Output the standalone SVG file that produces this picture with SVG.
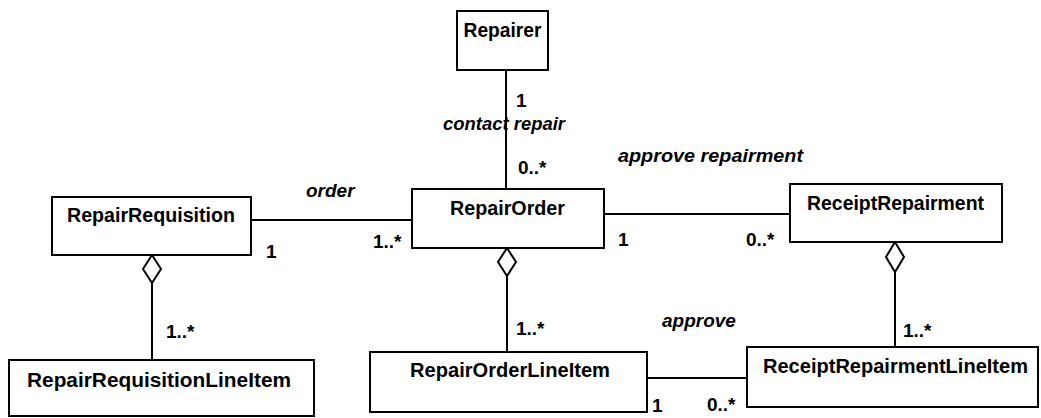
<svg xmlns="http://www.w3.org/2000/svg" width="1041" height="418" viewBox="0 0 1041 418">
<style>
.box{fill:#fff;stroke:#000;stroke-width:2}
.name{font-family:"Liberation Sans",Arial,sans-serif;font-weight:bold;font-size:20px;fill:#000}
.lbl{font-family:"Liberation Sans",Arial,sans-serif;font-weight:bold;font-style:italic;font-size:19px;fill:#000}
.mul{font-family:"Liberation Sans",Arial,sans-serif;font-weight:bold;font-size:19px;fill:#000}
.ln{fill:none;stroke:#000;stroke-width:2}
.dia{fill:#fff;stroke:#000;stroke-width:2}
</style>
<rect width="1041" height="418" fill="#fff"/>
<g id="connectors">
<line class="ln" x1="506" y1="70" x2="506" y2="189"/>
<line class="ln" x1="251" y1="220" x2="412" y2="220"/>
<line class="ln" x1="604" y1="214" x2="790" y2="214"/>
<line class="ln" x1="152" y1="283" x2="152" y2="360"/>
<polygon class="dia" points="152,255 161,269 152,283 143,269"/>
<line class="ln" x1="507" y1="276" x2="507" y2="352"/>
<polygon class="dia" points="507,248 516,262 507,276 498,262"/>
<line class="ln" x1="895" y1="272" x2="895" y2="347"/>
<polygon class="dia" points="895,242 904,257 895,272 886,257"/>
<line class="ln" x1="647" y1="378" x2="747" y2="378"/>
<text class="mul" x="516" y="107">1</text>
<text class="lbl" x="443" y="130" textLength="122" lengthAdjust="spacingAndGlyphs">contact repair</text>
<text class="mul" x="518" y="174">0..*</text>
<text class="lbl" x="618" y="162" textLength="185" lengthAdjust="spacingAndGlyphs">approve repairment</text>
<text class="lbl" x="306" y="197">order</text>
<text class="mul" x="266" y="258">1</text>
<text class="mul" x="373" y="248">1..*</text>
<text class="mul" x="618" y="246">1</text>
<text class="mul" x="746" y="246">0..*</text>
<text class="mul" x="166" y="338">1..*</text>
<text class="mul" x="516" y="335">1..*</text>
<text class="mul" x="903" y="337">1..*</text>
<text class="lbl" x="662" y="327">approve</text>
<text class="mul" x="652" y="412">1</text>
<text class="mul" x="707" y="411">0..*</text>
</g>
<g id="Repairer">
<rect class="box" x="457" y="11" width="91" height="59"/>
<text class="name" x="502.5" y="37" text-anchor="middle" textLength="78" lengthAdjust="spacingAndGlyphs">Repairer</text>
</g>
<g id="RepairRequisition">
<rect class="box" x="52" y="197" width="199" height="58"/>
<text class="name" x="67" y="222" textLength="168" lengthAdjust="spacingAndGlyphs">RepairRequisition</text>
</g>
<g id="RepairOrder">
<rect class="box" x="412" y="189" width="192" height="59"/>
<text class="name" x="450" y="215" textLength="115" lengthAdjust="spacingAndGlyphs">RepairOrder</text>
</g>
<g id="ReceiptRepairment">
<rect class="box" x="790" y="184" width="212" height="58"/>
<text class="name" x="807" y="210" textLength="177" lengthAdjust="spacingAndGlyphs">ReceiptRepairment</text>
</g>
<g id="RepairRequisitionLineItem">
<rect class="box" x="9" y="360" width="305" height="56"/>
<text class="name" x="27" y="387" textLength="264" lengthAdjust="spacingAndGlyphs">RepairRequisitionLineItem</text>
</g>
<g id="RepairOrderLineItem">
<rect class="box" x="370" y="352" width="277" height="60"/>
<text class="name" x="410" y="377" textLength="200" lengthAdjust="spacingAndGlyphs">RepairOrderLineItem</text>
</g>
<g id="ReceiptRepairmentLineItem">
<rect class="box" x="747" y="347" width="291" height="60"/>
<text class="name" x="763" y="373" textLength="265" lengthAdjust="spacingAndGlyphs">ReceiptRepairmentLineItem</text>
</g>
</svg>
